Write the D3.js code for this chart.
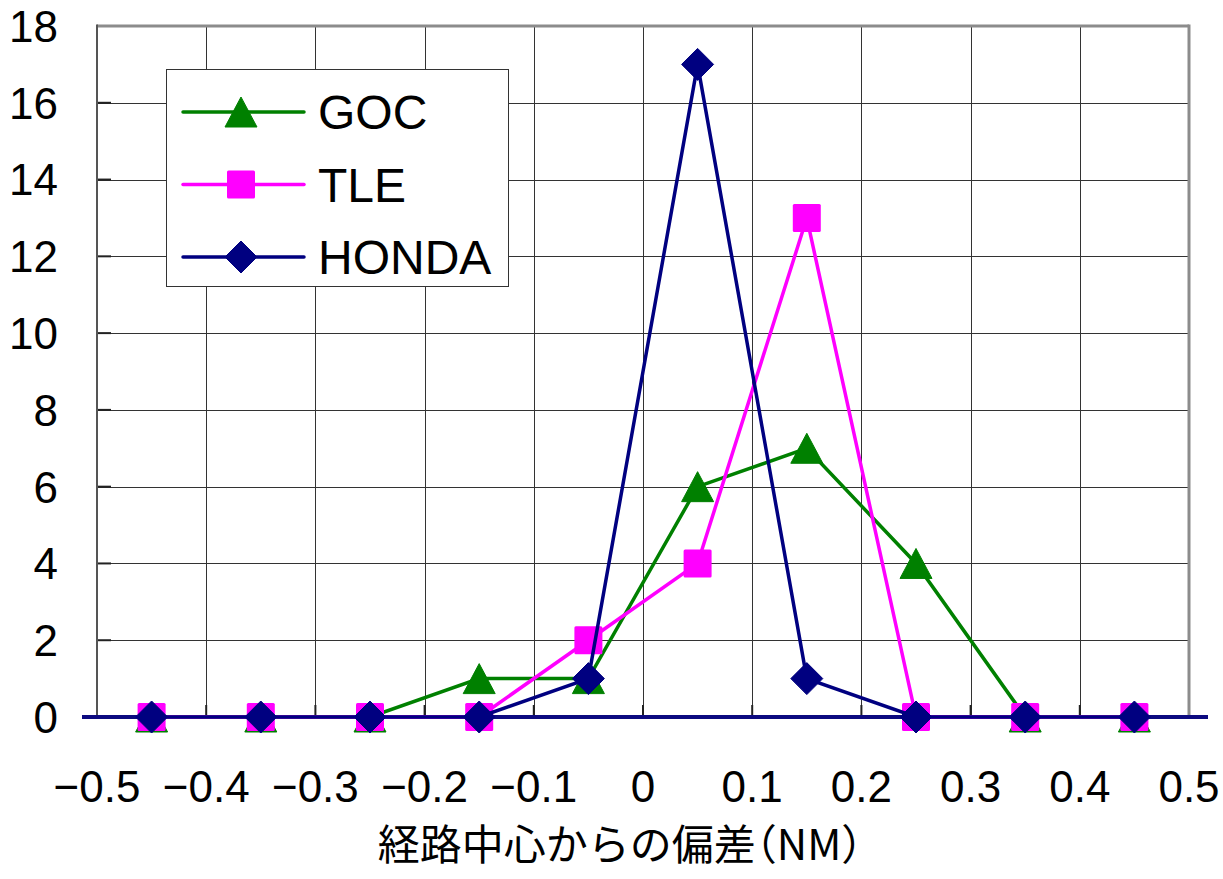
<!DOCTYPE html>
<meta charset="utf-8">
<style>
body {
  margin: 0;
  background-color: #fff;
}
.tick-label {
  font-family: "Liberation Sans", Arial, sans-serif;
  font-size: 44px;
  fill: #000;
}
.axis-title {
  font-family: "Noto Sans CJK JP", sans-serif;
  font-size: 42px;
  fill: #000;
}
.axis-title .paren {
  font-feature-settings: "halt";
}
.legend text {
  font-family: "Liberation Sans", Arial, sans-serif;
  font-size: 48px;
  fill: #000;
}
.grid line {
  stroke: #333;
  stroke-width: 1px;
  shape-rendering: crispEdges;
}
.series {
  fill: none;
  stroke-width: 3.5px;
}
</style>
<body>
<svg width="1223" height="879"></svg>
</body>

<script src="https://d3js.org/d3.v7.min.js"></script>
<script>

// bin centres (NM) and counts for each series
var bins = [-0.45, -0.35, -0.25, -0.15, -0.05, 0.05, 0.15, 0.25, 0.35, 0.45];
var goc   = [0, 0, 0, 1, 1, 6, 7, 4, 0, 0];
var tle   = [0, 0, 0, 0, 2, 4, 13, 0, 0, 0];
var honda = [0, 0, 0, 0, 1, 17, 1, 0, 0, 0];

var xTicks = [-0.5, -0.4, -0.3, -0.2, -0.1, 0, 0.1, 0.2, 0.3, 0.4, 0.5];
var yTicks = [0, 2, 4, 6, 8, 10, 12, 14, 16, 18];

var seriesNames = ["GOC", "TLE", "HONDA"];
var seriesColors = ["#008000", "#ff00ff", "#000080"];
var seriesShapes = ["triangle", "square", "diamond"];

var margin = {top: 26, right: 34, bottom: 162, left: 97},
    width = 1223 - margin.left - margin.right,
    height = 879 - margin.top - margin.bottom;

var x = d3.scaleLinear().domain([-0.5, 0.5]).range([0, width]);
var y = d3.scaleLinear().domain([0, 18]).range([height, 0]);

var svg = d3.select("svg");
var g = svg.append("g")
  .attr("transform", "translate(" + margin.left + "," + margin.top + ")");

// grid
var grid = g.append("g").attr("class", "grid");
grid.selectAll(".gy").data(yTicks.slice(1))
  .enter().append("line")
  .attr("x1", 0).attr("x2", width)
  .attr("y1", function(d) { return Math.round(y(d)) + 0.5; })
  .attr("y2", function(d) { return Math.round(y(d)) + 0.5; });
grid.selectAll(".gx").data(xTicks.slice(1))
  .enter().append("line")
  .attr("y1", 0).attr("y2", height)
  .attr("x1", function(d) { return Math.round(x(d)) + 0.5; })
  .attr("x2", function(d) { return Math.round(x(d)) + 0.5; });

// inner tick marks (darker)
g.selectAll(".ytick").data(yTicks)
  .enter().append("line")
  .attr("x1", 0).attr("x2", 14)
  .attr("y1", function(d) { return y(d); })
  .attr("y2", function(d) { return y(d); })
  .style("stroke", "#222").style("stroke-width", 2);
g.selectAll(".xtick").data(xTicks)
  .enter().append("line")
  .attr("y1", height).attr("y2", height - 12)
  .attr("x1", function(d) { return x(d); })
  .attr("x2", function(d) { return x(d); })
  .style("stroke", "#222").style("stroke-width", 2);

// plot border
g.append("line")
  .attr("x1", 0).attr("x2", width).attr("y1", 0).attr("y2", 0)
  .style("stroke", "#8c8c8c").style("stroke-width", 3);
g.append("line")
  .attr("x1", width).attr("x2", width).attr("y1", -1.5).attr("y2", height)
  .style("stroke", "#8c8c8c").style("stroke-width", 3);
g.append("line")
  .attr("x1", 0).attr("x2", 0).attr("y1", -1.5).attr("y2", height)
  .style("stroke", "#555").style("stroke-width", 2);

// x axis line at zero, runs past the plot edges
g.append("line")
  .attr("x1", x(-0.5) - 15).attr("x2", x(0.5) + 19)
  .attr("y1", y(0)).attr("y2", y(0))
  .style("stroke", "#0c0a80").style("stroke-width", 4);

// tick labels
g.selectAll(".ylab").data(yTicks)
  .enter().append("text")
  .attr("class", "tick-label")
  .attr("x", -39)
  .attr("y", function(d) { return y(d); })
  .attr("dy", "0.36em")
  .attr("text-anchor", "end")
  .text(function(d) { return d; });

g.selectAll(".xlab").data(xTicks)
  .enter().append("text")
  .attr("class", "tick-label")
  .attr("x", function(d) { return x(d); })
  .attr("y", 802 - margin.top)
  .attr("text-anchor", "middle")
  .text(function(d) { return d < 0 ? "\u2212" + Math.abs(d) : d; });

var title = svg.append("text")
  .attr("class", "axis-title")
  .attr("x", 620)
  .attr("y", 860)
  .attr("text-anchor", "middle");
title.append("tspan").text("経路中心からの偏差");
title.append("tspan").attr("class", "paren").text("（");
title.append("tspan").text("NM");
title.append("tspan").attr("class", "paren").text("）");

// markers
function marker(sel, shape, color) {
  if (shape == "triangle") {
    sel.append("path").attr("d", "M0,-15 L16,15 L-16,15 Z")
      .attr("fill", color).attr("stroke", color).attr("stroke-linejoin", "round").attr("stroke-width", 1);
  } else if (shape == "square") {
    sel.append("rect").attr("x", -14).attr("y", -14).attr("width", 28).attr("height", 28)
      .attr("rx", 1.5).attr("fill", color);
  } else {
    sel.append("path").attr("d", "M0,-16 L16,0 L0,16 L-16,0 Z")
      .attr("fill", color).attr("stroke", color).attr("stroke-linejoin", "round").attr("stroke-width", 1);
  }
}

var allSeries = [goc, tle, honda];
var line = d3.line()
  .x(function(d, i) { return x(bins[i]); })
  .y(function(d) { return y(d); });

allSeries.forEach(function(vals, k) {
  g.append("path")
    .datum(vals)
    .attr("class", "series")
    .attr("d", line)
    .style("stroke", seriesColors[k]);
  vals.forEach(function(v, i) {
    var m = g.append("g").attr("transform", "translate(" + x(bins[i]) + "," + y(v) + ")");
    marker(m, seriesShapes[k], seriesColors[k]);
  });
});

// legend
var legend = svg.append("g").attr("class", "legend").attr("transform", "translate(166,69)");
legend.append("rect")
  .attr("x", 0.5).attr("y", 0.5).attr("width", 342).attr("height", 217)
  .attr("fill", "#fff").attr("stroke", "#333").attr("stroke-width", 1);

seriesNames.forEach(function(name, k) {
  var row = legend.append("g").attr("transform", "translate(0," + (43 + k * 72.5) + ")");
  row.append("line")
    .attr("x1", 17).attr("x2", 138)
    .style("stroke", seriesColors[k]).style("stroke-width", 3.5).style("stroke-linecap", "round");
  var m = row.append("g").attr("transform", "translate(75,0)");
  marker(m, seriesShapes[k], seriesColors[k]);
  row.append("text")
    .attr("x", 152)
    .attr("dy", "0.36em")
    .text(name);
});

</script>
